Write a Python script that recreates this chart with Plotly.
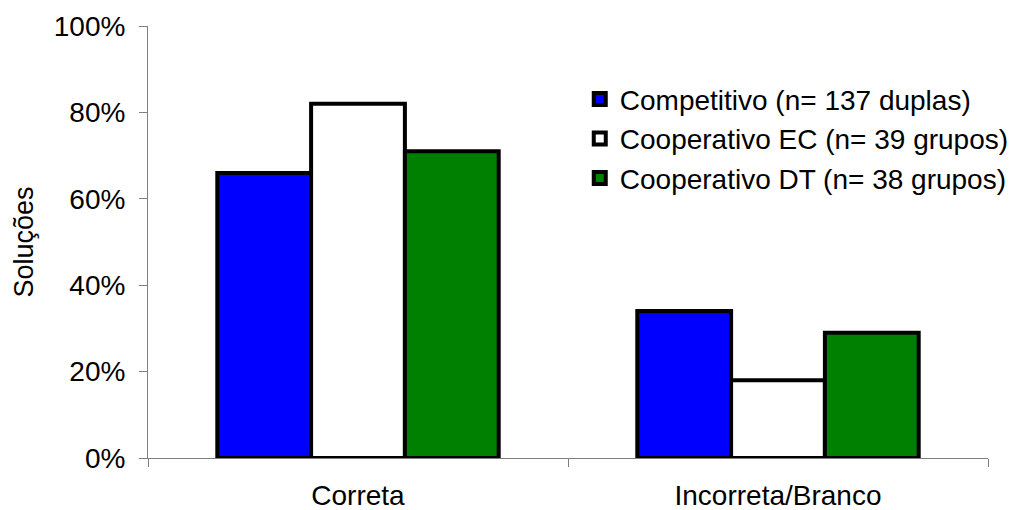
import plotly.graph_objects as go

categorias = ["Correta", "Incorreta/Branco"]
series = [
    "Competitivo (n= 137 duplas)",
    "Cooperativo EC (n= 39 grupos)",
    "Cooperativo DT (n= 38 grupos)",
]
competitivo = [0.66, 0.34]
cooperativo_ec = [0.82, 0.18]
cooperativo_dt = [0.71, 0.29]
cores = ["#0000FF", "#FFFFFF", "#008000"]

fig = go.Figure()
for i, (nome, valores, cor) in enumerate(zip(series, [competitivo, cooperativo_ec, cooperativo_dt], cores)):
    fig.add_trace(go.Bar(
        x=categorias, y=valores, name=nome,
        marker=dict(color=cor, line=dict(color="black", width=4)),
        legendgroup=f"g{i}",
    ))

fonte = dict(family="Liberation Sans, Arial, sans-serif", size=28, color="black")

fig.update_layout(
    width=1011, height=510,
    margin=dict(l=148, r=23, t=26, b=52, autoexpand=False),
    paper_bgcolor="white", plot_bgcolor="white",
    font=fonte,
    barmode="group", bargap=0.33, bargroupgap=0,
    showlegend=True,
    legend=dict(x=0.514, y=0.888, xanchor="left", yanchor="top",
                font=fonte, tracegroupgap=0, bgcolor="rgba(0,0,0,0)",
                itemwidth=30),
    xaxis=dict(showline=True, linecolor="#808080", linewidth=1,
               ticks="outside", ticklen=8, tickcolor="#808080",
               tickson="boundaries", showgrid=False, zeroline=False,
               tickfont=fonte, ticklabelstandoff=12),
    yaxis=dict(range=[0, 1], dtick=0.2, tickformat=".0%",
               showline=True, linecolor="#808080", linewidth=1,
               ticks="outside", ticklen=8, tickcolor="#808080",
               showgrid=False, zeroline=False, tickfont=fonte,
               ticklabelstandoff=8,
               title=dict(text="Soluções", font=dict(fonte, size=27), standoff=12)),
)

fig.write_html("out.html")
